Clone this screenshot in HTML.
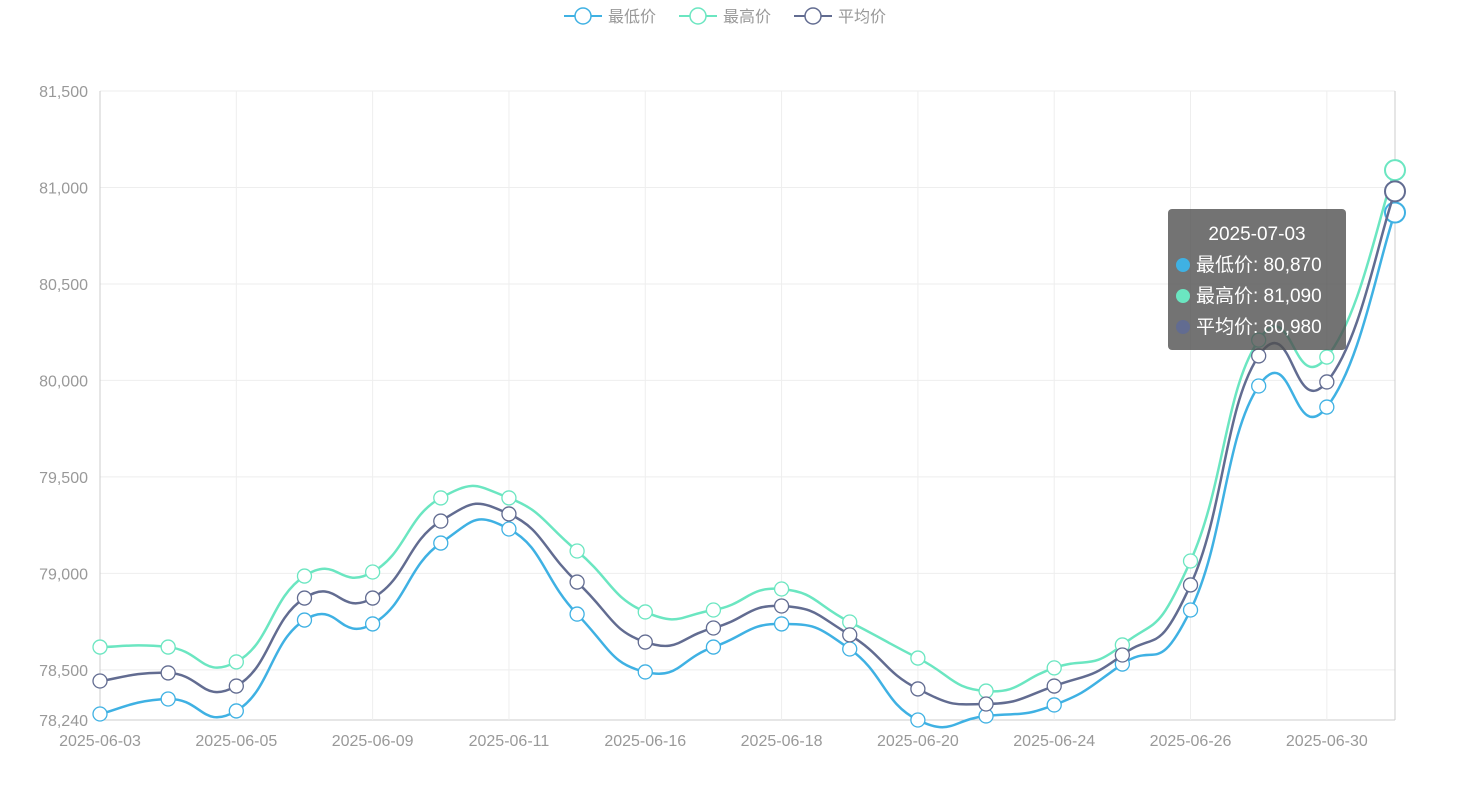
<!DOCTYPE html>
<html><head><meta charset="utf-8"><style>
body{margin:0;background:#fff;font-family:"Liberation Sans","Noto Sans CJK SC",sans-serif}
#wrap{position:relative;width:1465px;height:787px}
#tip{position:absolute;left:1168px;top:209px;width:178px;height:141px;background:rgba(80,80,80,.8);border-radius:4px;color:#fff;font-size:19px;box-sizing:border-box;padding:10px 8px;line-height:31px}
#tip .t{text-align:center}
#tip i{display:inline-block;width:14px;height:14px;border-radius:50%;margin-right:6px;vertical-align:-1px}
</style></head><body>
<div id="wrap">
<svg id="svg" width="1465" height="787"></svg>
<div id="tip">
<div class="t">2025-07-03</div>
<div><i style="background:#3fb1e3"></i>最低价: 80,870</div>
<div><i style="background:#6be6c1"></i>最高价: 81,090</div>
<div><i style="background:#626c91"></i>平均价: 80,980</div>
</div>
</div>
<script>
const categories=["2025-06-03","2025-06-04","2025-06-05","2025-06-06","2025-06-09","2025-06-10","2025-06-11","2025-06-12","2025-06-16","2025-06-17","2025-06-18","2025-06-19","2025-06-20","2025-06-23","2025-06-24","2025-06-25","2025-06-26","2025-06-27","2025-06-30","2025-07-03"];
const lowVals=[78271,78349,78287,78758,78738,79157,79230,78789,78489,78618,78738,78608,78240,78261,78318,78530,78810,79971,79862,80870];
const highVals=[78618,78618,78541,78986,79007,79391,79391,79116,78800,78810,78919,78748,78561,78390,78510,78629,79064,80209,80121,81090];
const avgVals=[78442,78484,78416,78872,78872,79271,79308,78955,78644,78717,78831,78681,78401,78323,78416,78577,78940,80127,79992,80980];
const yTicks=[78240,78500,79000,79500,80000,80500,81000,81500];
const seriesNames=["最低价","最高价","平均价"];
const NS="http://www.w3.org/2000/svg",svg=document.getElementById('svg');
const X0=100,X1=1395,Y0=720,Y1=91,YMIN=78240,YMAX=81500;
const xs=i=>X0+(X1-X0)*i/(categories.length-1);
const ys=v=>Y0-(v-YMIN)/(YMAX-YMIN)*(Y0-Y1);
function mk(t,a,p){const e=document.createElementNS(NS,t);for(const k in a)e.setAttribute(k,a[k]);(p||svg).appendChild(e);return e;}
// grid
yTicks.forEach(v=>{const y=ys(v);
const g=mk('line',{x1:X0,x2:X1,y1:y,y2:y,stroke:v===YMIN?'#ccc':'#eee'});


const t=mk('text',{x:X0-12,y:y+6,'text-anchor':'end','font-size':16,fill:'#999'});t.textContent=v.toLocaleString('en-US');

});
categories.forEach((c,i)=>{const x=xs(i);
if(i%2===0||i===categories.length-1){const g=mk('line',{x1:x,x2:x,y1:Y1,y2:Y0,stroke:i===0||i===categories.length-1?'#ccc':'#eee'});

}
if(i%2===0){const t=mk('text',{x:x,y:Y0+26,'text-anchor':'middle','font-size':16,fill:'#999'});t.textContent=c;

}});
function path(vals){const p=vals.map((v,i)=>[xs(i),ys(v)]);let d=`M${p[0][0]},${p[0][1]}`;const s=0.25;
for(let i=0;i<p.length-1;i++){const a=p[i-1]||p[i],b=p[i],c=p[i+1],e=p[i+2]||c;
d+=`C${b[0]+(c[0]-a[0])*s},${b[1]+(c[1]-a[1])*s} ${c[0]-(e[0]-b[0])*s},${c[1]-(e[1]-b[1])*s} ${c[0]},${c[1]}`;}return d;}
const defs=[[lowVals,'#3fb1e3','low'],[highVals,'#6be6c1','high'],[avgVals,'#626c91','avg']];
defs.forEach(([vals,col,n])=>{const l=mk('path',{d:path(vals),fill:'none',stroke:col,'stroke-width':2.5});


vals.forEach((v,i)=>{const last=i===vals.length-1;const c=mk('circle',{cx:xs(i),cy:ys(v),r:last?10:7,fill:'#fff',stroke:col,'stroke-width':last?2:1.3});

});});
// legend
const lx=[564,679,794];
seriesNames.forEach((n,i)=>{const g=mk('g',{});


const col=defs[i][1];mk('line',{x1:lx[i],x2:lx[i]+38,y1:16,y2:16,stroke:col,'stroke-width':2},g);
mk('circle',{cx:lx[i]+19,cy:16,r:8,fill:'#fff',stroke:col,'stroke-width':1.5},g);
const t=mk('text',{x:lx[i]+44,y:22,'font-size':16,fill:'#999'},g);t.textContent=n;});
</script>
</body></html>
